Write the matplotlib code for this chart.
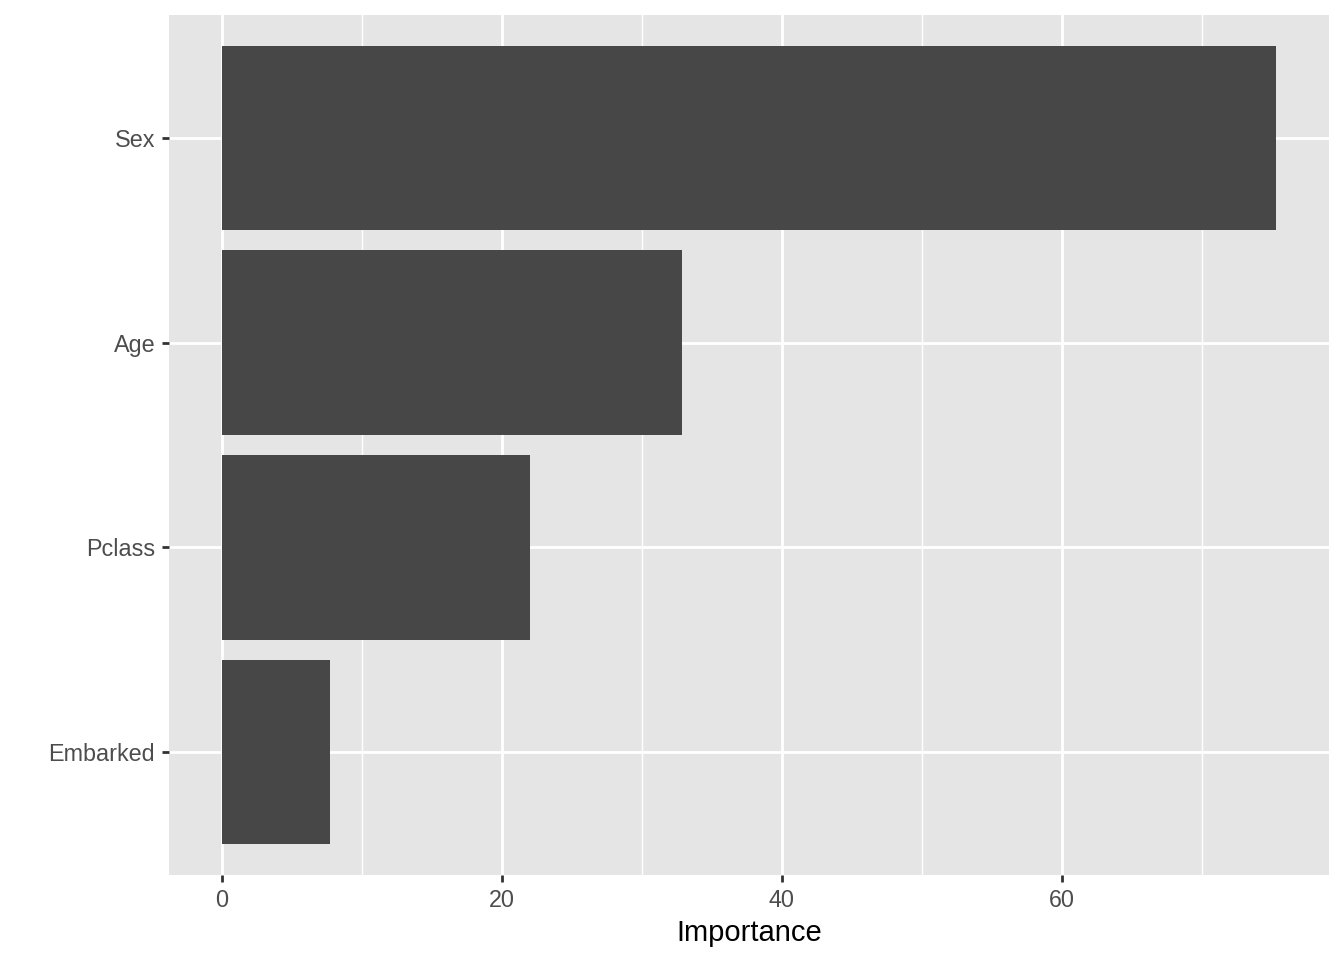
import numpy as np
import matplotlib.pyplot as plt

# data
features = ["Embarked", "Pclass", "Age", "Sex"]
importance = [7.7, 22.0, 32.9, 75.3]

plt.rcParams['font.family'] = ['Liberation Sans', 'DejaVu Sans']

fig = plt.figure(figsize=(13.44, 9.6), dpi=100)
ax = fig.add_axes([169 / 1344, 1 - 875 / 960, 1160 / 1344, 860 / 960])

ypos = np.arange(1, len(features) + 1)
ax.barh(ypos, importance, height=0.9, color="#474747", zorder=3)

xmax = max(importance)
pad = 0.05 * xmax
ax.set_xlim(-pad, xmax + pad)
ax.set_ylim(0.4, len(features) + 0.6)

ax.set_facecolor("#E5E5E5")
for s in ax.spines.values():
    s.set_visible(False)

ax.set_xticks([0, 20, 40, 60])
ax.set_xticks([10, 30, 50, 70], minor=True)
ax.set_yticks(ypos)
ax.set_yticklabels(features)
ax.grid(which="major", color="white", linewidth=2.0, zorder=1)
ax.grid(which="minor", axis="x", color="white", linewidth=1.0, zorder=1)
ax.tick_params(which="major", length=5, width=2, color="#333333",
               labelcolor="#4D4D4D", labelsize=16.8, pad=5)
ax.tick_params(which="minor", length=0)

ax.set_xlabel("Importance", fontsize=21, color="black", labelpad=5)

fig.savefig("out.png", dpi=100)
